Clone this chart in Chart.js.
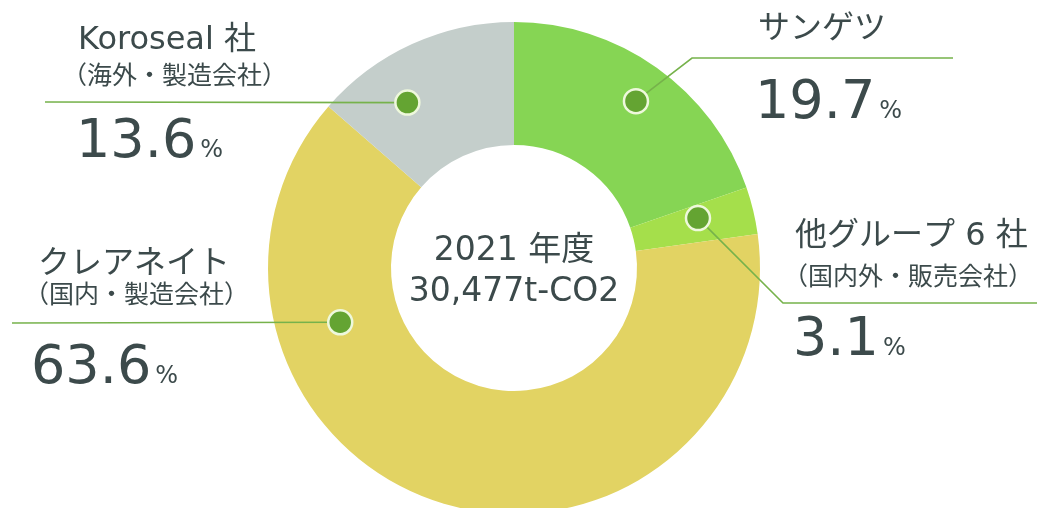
<!DOCTYPE html>
<html>
<head>
<meta charset="utf-8">
<script src="https://cdn.jsdelivr.net/npm/chart.js@4.4.0/dist/chart.umd.min.js"></script>
<style>
  html, body { margin: 0; padding: 0; background: #fff; overflow: hidden; }
  #wrap { width: 1037px; height: 508px; overflow: hidden; }
</style>
</head>
<body>
<div id="wrap"><canvas id="myChart" width="1037" height="560"></canvas></div>
<script>
// data
const categories = ['サンゲツ', '他グループ 6 社', 'クレアネイト', 'Koroseal 社'];
const subtitles = ['', '（国内外・販売会社）', '（国内・製造会社）', '（海外・製造会社）'];
const shares = [19.7, 3.1, 63.6, 13.6];
const centerLines = ['2021 年度', '30,477t-CO2'];

const sliceColors = ['#86d554', '#a5df4b', '#e2d363', '#c4cecb'];
const textColor = '#3c4a4b';
const fontFamily = '"DejaVu Sans", "Noto Sans CJK JP", sans-serif';

// where each callout sits: dot position inside its slice (angle frac, ring frac), leader path, text anchors
const callouts = [
  { at: [0.51, 0.68], path: [[692, 58], [953, 58]], title: [758, 30], sub: null, value: [755, 118] },
  { at: [0.35, 0.55], path: [[783, 303], [1037, 303]], title: [795, 237], sub: [783, 278], value: [793, 355] },
  { at: [0.745, 0.48], path: [[12, 323]], title: [38, 265], sub: [24, 296], value: [31, 383] },
  { at: [0.33, 0.6], path: [[45, 102]], title: [78, 41], sub: [62, 77], value: [76, 157] }
];

const calloutPlugin = {
  id: 'callouts',
  afterDraw(chart) {
    const ctx = chart.ctx;
    const meta = chart.getDatasetMeta(0);
    ctx.save();
    meta.data.forEach((arc, i) => {
      const c = callouts[i];
      const a = arc.startAngle + c.at[0] * (arc.endAngle - arc.startAngle);
      const r = arc.innerRadius + c.at[1] * (arc.outerRadius - arc.innerRadius);
      const dx = arc.x + Math.cos(a) * r;
      const dy = arc.y + Math.sin(a) * r;

      // leader line
      ctx.strokeStyle = '#76b24b';
      ctx.lineWidth = 1.6;
      ctx.beginPath();
      ctx.moveTo(dx, dy);
      c.path.forEach(p => ctx.lineTo(p[0], p[1]));
      ctx.stroke();

      // dot
      ctx.beginPath();
      ctx.arc(dx, dy, 12, 0, Math.PI * 2);
      ctx.fillStyle = '#64a432';
      ctx.fill();
      ctx.lineWidth = 2.5;
      ctx.strokeStyle = '#eef8dc';
      ctx.stroke();

      // texts
      ctx.fillStyle = textColor;
      ctx.textAlign = 'left';
      ctx.textBaseline = 'middle';
      ctx.font = '32px ' + fontFamily;
      ctx.fillText(categories[i], c.title[0], c.title[1]);
      if (c.sub && subtitles[i]) {
        ctx.font = '25px ' + fontFamily;
        ctx.fillText(subtitles[i], c.sub[0], c.sub[1]);
      }
      ctx.textBaseline = 'alphabetic';
      ctx.font = '54px ' + fontFamily;
      const v = shares[i].toFixed(1);
      ctx.fillText(v, c.value[0], c.value[1]);
      const w = ctx.measureText(v).width;
      ctx.font = '24px ' + fontFamily;
      ctx.fillText('%', c.value[0] + w + 4, c.value[1]);
    });

    // center text
    const cx = meta.data[0].x;
    const cy = meta.data[0].y;
    ctx.textAlign = 'center';
    ctx.textBaseline = 'alphabetic';
    ctx.font = '33px ' + fontFamily;
    ctx.fillText(centerLines[0], cx, cy - 8);
    ctx.fillText(centerLines[1], cx, cy + 33);
    ctx.restore();
  }
};

new Chart(document.getElementById('myChart'), {
  type: 'doughnut',
  data: {
    labels: categories,
    datasets: [{
      data: shares,
      backgroundColor: sliceColors,
      borderWidth: 0,
      hoverOffset: 0
    }]
  },
  options: {
    responsive: false,
    animation: false,
    devicePixelRatio: 1,
    cutout: '50%',
    layout: { padding: { left: 268, right: 277, top: 22, bottom: 46 } },
    plugins: {
      legend: { display: false },
      tooltip: { enabled: false }
    }
  },
  plugins: [calloutPlugin]
});
</script>
</body>
</html>
